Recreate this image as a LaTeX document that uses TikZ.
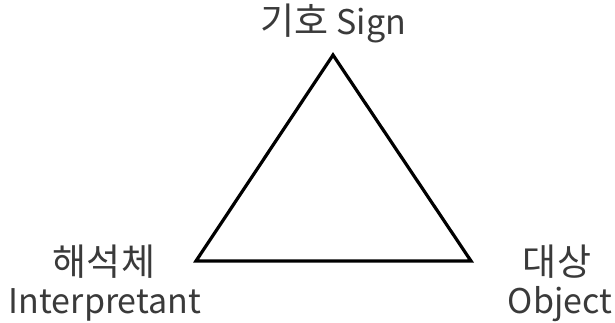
\documentclass[tikz,border=0pt]{standalone}
\usepackage{fontspec}
\setmainfont{Noto Sans CJK KR}
\usepackage{xcolor}
\usepackage{tikz}
\definecolor{labelgray}{HTML}{3A3A3A}

\begin{document}
\begin{tikzpicture}[x=1pt, y=-1pt, >=stealth,
  lbl/.style={text=labelgray, font=\fontsize{34}{40}\selectfont, inner sep=0pt, anchor=base},
  lblko/.style={lbl, font=\fontsize{37}{42}\selectfont},
  edge/.style={line width=3.2pt, line join=miter}]
\useasboundingbox (0,0) rectangle (615,323);

% Vertices of the triad
\coordinate (sign) at (333,55);
\coordinate (interp) at (196,261);
\coordinate (object) at (471,261);

% Triangle
\draw[edge] (sign) -- (interp) -- (object) -- cycle;

% Labels
\node[lblko] (signlbl) at (333,35) {기호 \fontsize{34}{40}\selectfont Sign};
\node[lblko] (interpko) at (104,275) {해석체};
\node[lbl] (interpen) at (105,313) {Interpretant};
\node[lblko] (objectko) at (557,275) {대상};
\node[lbl] (objecten) at (560,313) {Object};
\end{tikzpicture}
\end{document}
